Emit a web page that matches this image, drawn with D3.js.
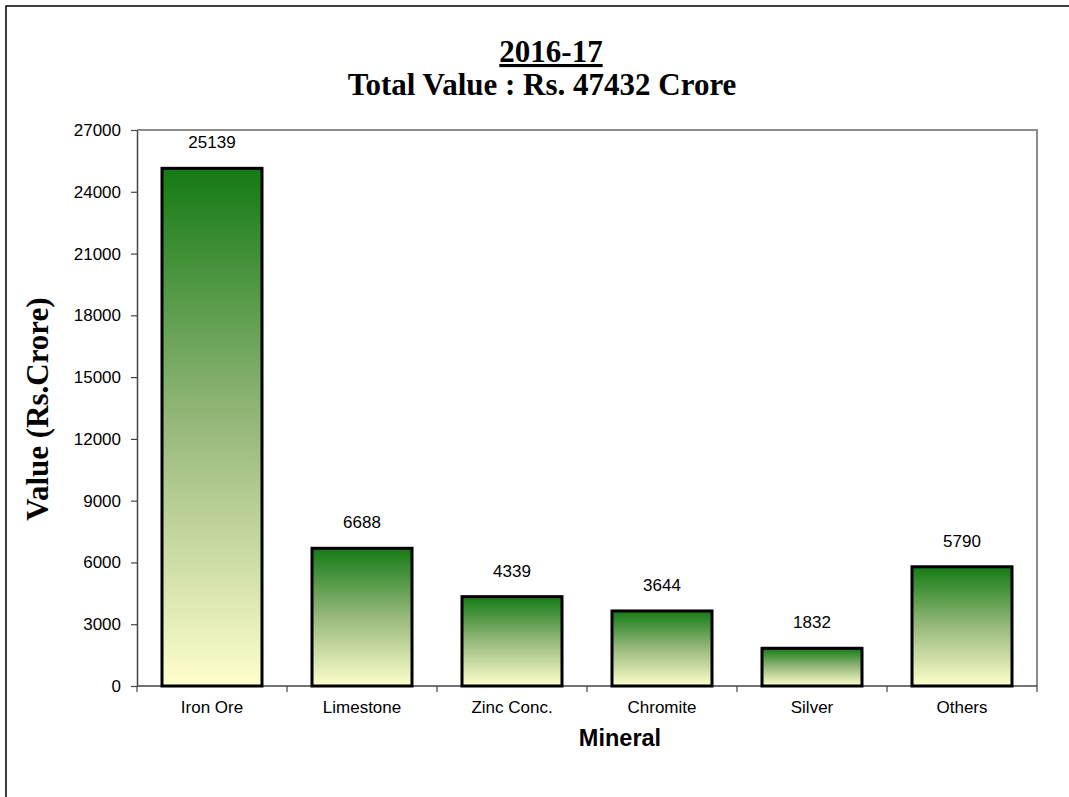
<!DOCTYPE html>
<html>
<head>
<meta charset="utf-8">
<script src="https://cdn.jsdelivr.net/npm/d3@7"></script>
<style>
  html, body { margin: 0; padding: 0; background: #fff; }
  svg { display: block; }
  .tick text { font-family: Arial, "Liberation Sans", sans-serif; font-size: 17px; fill: #000; }
</style>
</head>
<body>
<svg id="chart" width="1069" height="797"></svg>
<script>
/* ---------- data ---------- */
const minerals = ["Iron Ore", "Limestone", "Zinc Conc.", "Chromite", "Silver", "Others"];
const values = [25139, 6688, 4339, 3644, 1832, 5790];
const yTicks = [0, 3000, 6000, 9000, 12000, 15000, 18000, 21000, 24000, 27000];
const titleYear = "2016-17";
const titleTotal = "Total Value : Rs. 47432 Crore";

/* ---------- layout ---------- */
const svg = d3.select("#chart");
const W = 1069, H = 797;
const margin = { top: 130, right: 32, bottom: 111, left: 137 };
const innerW = W - margin.left - margin.right;
const innerH = H - margin.top - margin.bottom;

// outer chart border (runs off the right/bottom edge in the source)
svg.append("rect")
  .attr("x", 6).attr("y", 6).attr("width", 1200).attr("height", 1000)
  .style("fill", "none").style("stroke", "#000").style("stroke-width", 1.5);

const g = svg.append("g").attr("transform", `translate(${margin.left},${margin.top})`);

/* ---------- scales ---------- */
const x = d3.scaleBand().domain(minerals).range([0, innerW]).paddingInner(1 / 3).paddingOuter(1 / 6);
const y = d3.scaleLinear().domain([0, 27000]).range([innerH, 0]);

/* ---------- gradient ---------- */
const defs = svg.append("defs");
const grad = defs.append("linearGradient").attr("id", "barGrad")
  .attr("x1", 0).attr("y1", 0).attr("x2", 0).attr("y2", 1);
grad.append("stop").attr("offset", "0%").attr("stop-color", "#147b14");
grad.append("stop").attr("offset", "50%").attr("stop-color", "#98b97c");
grad.append("stop").attr("offset", "100%").attr("stop-color", "#ffffcc");

/* ---------- plot frame (top/right) ---------- */
g.append("path")
  .attr("d", `M0,0H${innerW}V${innerH}`)
  .style("fill", "none").style("stroke", "#8c8c8c").style("stroke-width", 2);

/* ---------- axes ---------- */
const yAxis = d3.axisLeft(y).tickValues(yTicks).tickFormat(d3.format("d"))
  .tickSize(6).tickPadding(10).tickSizeOuter(0);
const yG = g.append("g").call(yAxis);
yG.select(".domain").style("stroke", "#444").style("stroke-width", 1.5);
yG.selectAll(".tick line").style("stroke", "#444").style("stroke-width", 1.2);

// category boundary ticks on x axis
const bandStep = x.step();
const boundaries = d3.range(minerals.length + 1).map(i => i * bandStep);
const xG = g.append("g").attr("transform", `translate(0,${innerH})`);
xG.append("line").attr("x1", 0).attr("x2", innerW)
  .style("stroke", "#444").style("stroke-width", 1.5);
xG.selectAll(".btick").data(boundaries).join("line")
  .attr("x1", d => d).attr("x2", d => d).attr("y1", 0).attr("y2", 6)
  .style("stroke", "#444").style("stroke-width", 1.2);
xG.selectAll(".cat").data(minerals).join("text")
  .attr("x", d => x(d) + x.bandwidth() / 2).attr("y", 27)
  .attr("text-anchor", "middle")
  .style("font-family", "Arial, 'Liberation Sans', sans-serif").style("font-size", "17px")
  .text(d => d);

/* ---------- bars ---------- */
const rows = minerals.map((m, i) => ({ m, v: values[i] }));
g.selectAll(".bar").data(rows).join("rect")
  .attr("x", d => x(d.m)).attr("width", x.bandwidth())
  .attr("y", d => y(d.v)).attr("height", d => innerH - y(d.v))
  .style("fill", "url(#barGrad)").style("stroke", "#000").style("stroke-width", 3);

g.selectAll(".val").data(rows).join("text")
  .attr("x", d => x(d.m) + x.bandwidth() / 2).attr("y", d => y(d.v) - 20)
  .attr("text-anchor", "middle")
  .style("font-family", "Arial, 'Liberation Sans', sans-serif").style("font-size", "17px")
  .text(d => d.v);

/* ---------- titles ---------- */
const serif = "'Times New Roman', 'Liberation Serif', serif";
svg.append("text").attr("x", 551).attr("y", 62).attr("text-anchor", "middle")
  .style("font-family", serif).style("font-weight", "bold").style("font-size", "31px")
  .style("text-decoration", "underline")
  .text(titleYear);
svg.append("text").attr("x", 542).attr("y", 95).attr("text-anchor", "middle")
  .style("font-family", serif).style("font-weight", "bold").style("font-size", "31px")
  .text(titleTotal);

svg.append("text")
  .attr("transform", "translate(48,409) rotate(-90)").attr("text-anchor", "middle")
  .style("font-family", serif).style("font-weight", "bold").style("font-size", "31px")
  .text("Value (Rs.Crore)");

svg.append("text").attr("x", 620).attr("y", 746).attr("text-anchor", "middle")
  .style("font-family", "Arial, 'Liberation Sans', sans-serif").style("font-weight", "bold").style("font-size", "23.5px")
  .text("Mineral");
</script>
</body>
</html>
